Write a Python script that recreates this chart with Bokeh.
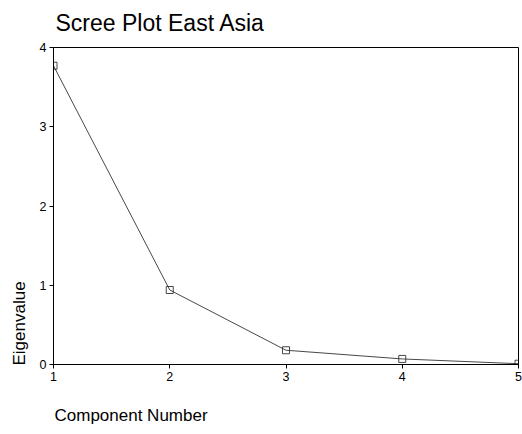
from bokeh.plotting import figure
from bokeh.models import Range1d, FixedTicker, Title
from bokeh.embed import file_html
from bokeh.resources import INLINE

components = [1, 2, 3, 4, 5]
eigenvalues = [3.77, 0.94, 0.18, 0.07, 0.01]
x_ticks = [1, 2, 3, 4, 5]
y_ticks = [0, 1, 2, 3, 4]

FONT = "Liberation Sans"

p = figure(width=522, height=434, output_backend="svg", toolbar_location=None,
           x_range=Range1d(1, 5), y_range=Range1d(0, 4),
           min_border_left=53, min_border_right=4, min_border_top=47, min_border_bottom=70)

p.title.text = "Scree Plot East Asia"
p.title.text_font = FONT
p.title.text_font_size = "23px"
p.title.text_font_style = "normal"
p.title.text_color = "black"
p.title.align = "left"
p.title.offset = 2
p.title.vertical_align = "top"
p.title.standoff = 19

p.line(components, eigenvalues, line_color="#333333", line_width=0.9)
p.scatter(components, eigenvalues, marker="square", size=7, fill_color=None,
          line_color="#333333", line_width=0.9)

p.xgrid.visible = False
p.ygrid.visible = False
p.outline_line_color = "black"
p.outline_line_width = 1

for ax in (p.xaxis[0], p.yaxis[0]):
    ax.axis_line_color = "black"
    ax.major_tick_line_color = "black"
    ax.major_tick_out = 4
    ax.major_tick_in = 0
    ax.minor_tick_line_color = None
    ax.major_label_text_font = FONT
    ax.major_label_text_font_size = "12.5px"
    ax.major_label_text_color = "black"
    ax.major_label_standoff = 3

p.xaxis[0].ticker = FixedTicker(ticks=x_ticks)
p.yaxis[0].ticker = FixedTicker(ticks=y_ticks)

xt = Title(text="\nComponent Number", align="left", text_font=FONT,
           text_font_size="17px", text_font_style="normal", text_color="black",
           offset=1, standoff=6, vertical_align="top")
p.add_layout(xt, "below")

yt = Title(text="Eigenvalue", align="left", text_font=FONT,
           text_font_size="17px", text_font_style="normal", text_color="black",
           offset=-1, standoff=15)
p.add_layout(yt, "left")

open("out.html", "w").write(file_html(p, INLINE))
